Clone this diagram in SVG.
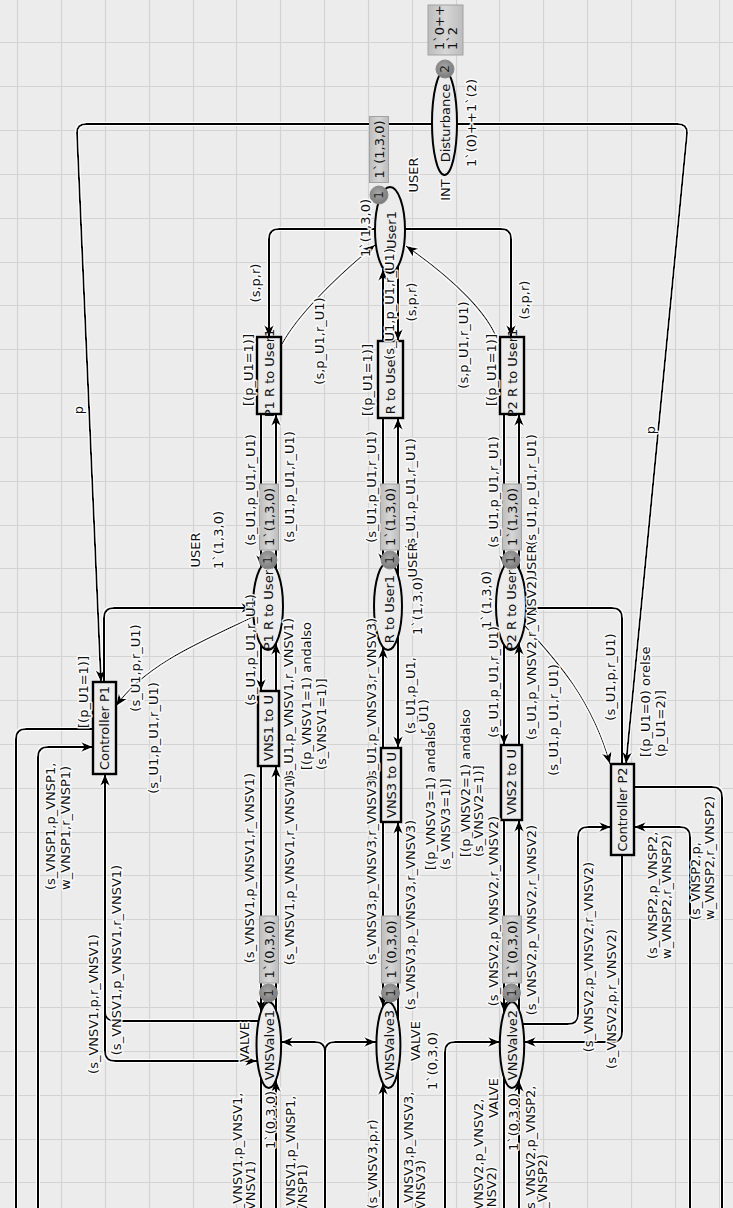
<svg xmlns="http://www.w3.org/2000/svg" width="733" height="1208" viewBox="0 0 733 1208">
<defs>
<style>
.bg{fill:#ececec}
.grid{stroke:#d3d3d3;stroke-width:1.2;fill:none}
.arc{fill:none;stroke:#000;stroke-width:2}
.thin{stroke-width:1.2}
.pl{fill:#ececec;stroke:#000;stroke-width:2}
.tr{fill:#ececec;stroke:#000;stroke-width:2.4}
.tok{fill:url(#tg);stroke:#8a8a8a;stroke-width:1}
.mk{fill:url(#mg);stroke:#a2a2a2;stroke-width:1}
text{font-family:"DejaVu Sans",Verdana,sans-serif;font-size:13px;fill:#111;text-anchor:middle;dominant-baseline:central}
.lb{paint-order:stroke;stroke:#fff;stroke-width:3;stroke-linejoin:round;stroke-opacity:0.9}
.st{text-anchor:start}
.tk{font-size:12px;fill:#222}
</style>
<radialGradient id="tg" cx="0.45" cy="0.4" r="0.6"><stop offset="0" stop-color="#a8a8a8"/><stop offset="1" stop-color="#7a7a7a"/></radialGradient>
<linearGradient id="mg" x1="0" y1="0" x2="1" y2="0"><stop offset="0" stop-color="#bcbcbc"/><stop offset="0.5" stop-color="#d6d6d6"/><stop offset="1" stop-color="#bcbcbc"/></linearGradient>
<marker id="ah" viewBox="0 0 12 10" refX="12" refY="5" markerWidth="12" markerHeight="10" markerUnits="userSpaceOnUse" orient="auto"><path d="M0,0 L12,5 L0,10 L3.5,5 z" fill="#000"/></marker>
<filter id="halo" filterUnits="userSpaceOnUse" x="0" y="0" width="733" height="1208"><feMorphology in="SourceAlpha" operator="dilate" radius="1.3" result="d"/><feFlood flood-color="#fff"/><feComposite in2="d" operator="in" result="w"/><feMerge><feMergeNode in="w"/><feMergeNode in="SourceGraphic"/></feMerge></filter>
</defs>
<rect class="bg" x="0" y="0" width="733" height="1208"/>
<path class="grid" d="M17.5 0V1208M61.5 0V1208M105.5 0V1208M149.5 0V1208M193.5 0V1208M236.5 0V1208M280.5 0V1208M324.5 0V1208M368.5 0V1208M412.5 0V1208M456.5 0V1208M499.5 0V1208M543.5 0V1208M587.5 0V1208M631.5 0V1208M675.5 0V1208M719.5 0V1208M0 42.5H733M0 86.5H733M0 130.5H733M0 174.5H733M0 218.5H733M0 262.5H733M0 305.5H733M0 349.5H733M0 393.5H733M0 437.5H733M0 481.5H733M0 525.5H733M0 568.5H733M0 612.5H733M0 656.5H733M0 700.5H733M0 744.5H733M0 788.5H733M0 832.5H733M0 875.5H733M0 919.5H733M0 963.5H733M0 1007.5H733M0 1051.5H733M0 1095.5H733M0 1139.5H733M0 1182.5H733"/>

<g id="connectors" filter="url(#halo)">
<path class="arc" d="M432 124 H86 Q77 124 77 133 L101 682" marker-end="url(#ah)"/>
<path class="arc" d="M457 124 H678 Q687 124 687 133 L626 764" marker-end="url(#ah)"/>
<path class="arc" d="M375 229 H279 Q269 229 269 239 V337" marker-end="url(#ah)"/>
<path class="arc" d="M405 229 H501 Q511 229 511 239 V337" marker-end="url(#ah)"/>
<path class="arc thin" d="M282 344 C296 318 330 282 375 245" marker-end="url(#ah)"/>
<path class="arc thin" d="M497 339 C488 315 458 282 406 246" marker-end="url(#ah)"/>
<path class="arc" d="M398 266 V341" marker-end="url(#ah)"/>
<path class="arc" d="M383 341 V269" marker-end="url(#ah)"/>
<path class="arc" d="M261 414 V567" marker-end="url(#ah)"/>
<path class="arc" d="M276 569 V414" marker-end="url(#ah)"/>
<path class="arc" d="M261 645 V691" marker-end="url(#ah)"/>
<path class="arc" d="M276 691 V643" marker-end="url(#ah)"/>
<path class="arc" d="M261 766 V1012" marker-end="url(#ah)"/>
<path class="arc" d="M276 1011 V766" marker-end="url(#ah)"/>
<path class="arc" d="M261 1078 V1208"/>
<path class="arc" d="M276 1208 V1080" marker-end="url(#ah)"/>
<path class="arc" d="M383 418 V565" marker-end="url(#ah)"/>
<path class="arc" d="M398 575 V418" marker-end="url(#ah)"/>
<path class="arc" d="M383 748 V647" marker-end="url(#ah)"/>
<path class="arc" d="M398 637 V748" marker-end="url(#ah)"/>
<path class="arc" d="M383 822 V1007" marker-end="url(#ah)"/>
<path class="arc" d="M398 1019 V822" marker-end="url(#ah)"/>
<path class="arc" d="M383 1208 V1083" marker-end="url(#ah)"/>
<path class="arc" d="M398 1071 V1208"/>
<path class="arc" d="M504 414 V567" marker-end="url(#ah)"/>
<path class="arc" d="M519 569 V414" marker-end="url(#ah)"/>
<path class="arc" d="M504 645 V745" marker-end="url(#ah)"/>
<path class="arc" d="M519 745 V643" marker-end="url(#ah)"/>
<path class="arc" d="M504 820 V1012" marker-end="url(#ah)"/>
<path class="arc" d="M519 1010 V820" marker-end="url(#ah)"/>
<path class="arc" d="M504 1077 V1208"/>
<path class="arc" d="M519 1208 V1080" marker-end="url(#ah)"/>
<path class="arc" d="M104 682 V618 Q104 608 114 608 H253" marker-end="url(#ah)"/>
<path class="arc thin" d="M253 617 C200 642 145 665 116 706" marker-end="url(#ah)"/>
<path class="arc" d="M93 729 H26 Q16 729 16 739 V1208"/>
<path class="arc" d="M38 1208 V757 Q38 747 48 747 H93" marker-end="url(#ah)"/>
<path class="arc" d="M258 1021 H115 Q105 1021 105 1011 V774" marker-end="url(#ah)"/>
<path class="arc" d="M105 774 V1051 Q105 1061 115 1061 H257" marker-end="url(#ah)"/>
<path class="arc" d="M325 1208 V1052 Q325 1042 315 1042 H281" marker-end="url(#ah)"/>
<path class="arc" d="M325 1208 V1052 Q325 1042 335 1042 H376" marker-end="url(#ah)"/>
<path class="arc" d="M445 1208 V1052 Q445 1042 455 1042 H500" marker-end="url(#ah)"/>
<path class="arc" d="M622 764 V618 Q622 608 612 608 H526" marker-end="url(#ah)"/>
<path class="arc thin" d="M525 626 C558 662 592 700 610 764" marker-end="url(#ah)"/>
<path class="arc" d="M634 787 H712 Q722 787 722 797 V1208"/>
<path class="arc" d="M690 1208 V837 Q690 827 680 827 H634" marker-end="url(#ah)"/>
<path class="arc" d="M523 1024 H568 Q578 1024 578 1014 V837 Q578 827 588 827 H611" marker-end="url(#ah)"/>
<path class="arc" d="M622 855 V1032 Q622 1042 612 1042 H524" marker-end="url(#ah)"/>
</g>

<g id="Disturbance">
<ellipse class="pl" cx="444.5" cy="123" rx="12.5" ry="52"/>
<text transform="rotate(-90 445 123)" x="445" y="123">Disturbance</text>
<rect class="mk" x="428" y="5" width="35" height="50"/>
<text class="st" transform="rotate(-90 439 50)" x="439" y="50">1`0++</text>
<text class="st" transform="rotate(-90 452 50)" x="452" y="50">1`2</text>
<circle class="tok" cx="445" cy="69" r="9"/>
<text class="tk" transform="rotate(-90 445 69)" x="445" y="69">2</text>
</g>

<g id="User1">
<ellipse class="pl" cx="390" cy="230" rx="15" ry="43"/>
<text transform="rotate(-90 391 230)" x="391" y="230">User1</text>
<rect class="mk" x="369.5" y="116.5" width="19" height="66"/>
<text transform="rotate(-90 379 149.5)" x="379" y="149.5">1`(1,3,0)</text>
<circle class="tok" cx="379" cy="195" r="9"/>
<text class="tk" transform="rotate(-90 379 195)" x="379" y="195">1</text>
</g>

<g id="T_P1RtoUser1">
<rect class="tr" x="257" y="337" width="24" height="77"/>
<text transform="rotate(-90 269 373)" x="269" y="373">P1 R to User1</text>
</g>
<g id="T_RtoUser1">
<rect class="tr" x="378" y="341" width="25" height="77"/>
<text transform="rotate(-90 390.5 380)" x="390.5" y="380">R to User1</text>
</g>
<g id="T_P2RtoUser1">
<rect class="tr" x="500" y="337" width="24" height="77"/>
<text transform="rotate(-90 512 373)" x="512" y="373">P2 R to User1</text>
</g>

<g id="P_P1RtoUser1">
<ellipse class="pl" cx="268" cy="606" rx="15" ry="44"/>
<text transform="rotate(-90 268.5 606)" x="268.5" y="606">P1 R to User1</text>
<rect class="mk" x="259.5" y="484" width="19" height="66"/>
<text transform="rotate(-90 269 517)" x="269" y="517">1`(1,3,0)</text>
<circle class="tok" cx="268" cy="560" r="9"/>
<text class="tk" transform="rotate(-90 268 560)" x="268" y="560">1</text>
</g>
<g id="P_RtoUser1">
<ellipse class="pl" cx="388" cy="606" rx="14" ry="44"/>
<text transform="rotate(-90 389 609)" x="389" y="609">R to User1</text>
<rect class="mk" x="380.5" y="484" width="19" height="66"/>
<text transform="rotate(-90 390 517)" x="390" y="517">1`(1,3,0)</text>
<circle class="tok" cx="390" cy="560" r="9"/>
<text class="tk" transform="rotate(-90 390 560)" x="390" y="560">1</text>
</g>
<g id="P_P2RtoUser1">
<ellipse class="pl" cx="511" cy="606" rx="15" ry="44"/>
<text transform="rotate(-90 511.5 606)" x="511.5" y="606">P2 R to User1</text>
<rect class="mk" x="502.5" y="484" width="19" height="66"/>
<text transform="rotate(-90 512 517)" x="512" y="517">1`(1,3,0)</text>
<circle class="tok" cx="511" cy="560" r="9"/>
<text class="tk" transform="rotate(-90 511 560)" x="511" y="560">1</text>
</g>

<g id="T_VNS1toU">
<rect class="tr" x="258" y="691" width="21" height="75"/>
<text transform="rotate(-90 268.5 728)" x="268.5" y="728">VNS1 to U</text>
</g>
<g id="T_VNS3toU">
<rect class="tr" x="381" y="748" width="20" height="74"/>
<text transform="rotate(-90 391 785)" x="391" y="785">VNS3 to U</text>
</g>
<g id="T_VNS2toU">
<rect class="tr" x="501" y="745" width="21" height="75"/>
<text transform="rotate(-90 511.5 782)" x="511.5" y="782">VNS2 to U</text>
</g>

<g id="VNSValve1">
<ellipse class="pl" cx="268.8" cy="1045" rx="12.3" ry="43"/>
<text transform="rotate(-90 269 1045)" x="269" y="1045">VNSValve1</text>
<rect class="mk" x="259.5" y="916" width="19" height="67"/>
<text transform="rotate(-90 269 949.5)" x="269" y="949.5">1`(0,3,0)</text>
<circle class="tok" cx="268.5" cy="993" r="9"/>
<text class="tk" transform="rotate(-90 268.5 993)" x="268.5" y="993">1</text>
</g>
<g id="VNSValve3">
<ellipse class="pl" cx="388.4" cy="1045" rx="12" ry="43"/>
<text transform="rotate(-90 389 1045)" x="389" y="1045">VNSValve3</text>
<rect class="mk" x="381.5" y="916" width="19" height="67"/>
<text transform="rotate(-90 391 949.5)" x="391" y="949.5">1`(0,3,0)</text>
<circle class="tok" cx="390.5" cy="993" r="9"/>
<text class="tk" transform="rotate(-90 390.5 993)" x="390.5" y="993">1</text>
</g>
<g id="VNSValve2">
<ellipse class="pl" cx="512" cy="1045" rx="12.2" ry="43"/>
<text transform="rotate(-90 512 1045)" x="512" y="1045">VNSValve2</text>
<rect class="mk" x="502.5" y="916" width="19" height="67"/>
<text transform="rotate(-90 512 949.5)" x="512" y="949.5">1`(0,3,0)</text>
<circle class="tok" cx="511.5" cy="993" r="9"/>
<text class="tk" transform="rotate(-90 511.5 993)" x="511.5" y="993">1</text>
</g>

<g id="ControllerP1">
<rect class="tr" x="93" y="682" width="23" height="92"/>
<text transform="rotate(-90 104.5 728)" x="104.5" y="728">Controller P1</text>
</g>
<g id="ControllerP2">
<rect class="tr" x="611" y="764" width="23" height="91"/>
<text transform="rotate(-90 622.5 809.5)" x="622.5" y="809.5">Controller P2</text>
</g>

<g id="labels" class="lb">
<text class="lb" transform="rotate(-90 78 410)" x="78" y="410">p</text>
<text class="lb" transform="rotate(-90 650 430)" x="650" y="430">p</text>
<text class="lb" transform="rotate(-90 255 283)" x="255" y="283">(s,p,r)</text>
<text class="lb" transform="rotate(-90 524 300)" x="524" y="300">(s,p,r)</text>
<text class="lb" transform="rotate(-90 319 341)" x="319" y="341">(s,p_U1,r_U1)</text>
<text class="lb" transform="rotate(-90 463 345)" x="463" y="345">(s,p_U1,r_U1)</text>
<text class="lb" transform="rotate(-90 248 370)" x="248" y="370">[(p_U1=1)]</text>
<text class="lb" transform="rotate(-90 367 380)" x="367" y="380">[(p_U1=1)]</text>
<text class="lb" transform="rotate(-90 491 370)" x="491" y="370">[(p_U1=1)]</text>
<text class="lb" transform="rotate(-90 413 175)" x="413" y="175">USER</text>
<text class="lb" transform="rotate(-90 365 228)" x="365" y="228">1`(1,3,0)</text>
<text class="lb" transform="rotate(-90 389 304)" x="389" y="304">(s_U1,p_U1,r_U1)</text>
<text class="lb" transform="rotate(-90 411 302)" x="411" y="302">(s,p,r)</text>
<text class="lb" transform="rotate(-90 445 190)" x="445" y="190">INT</text>
<text class="lb" transform="rotate(-90 471 123)" x="471" y="123">1`(0)++1`(2)</text>

<text class="lb" transform="rotate(-90 250 490)" x="250" y="490">(s_U1,p_U1,r_U1)</text>
<text class="lb" transform="rotate(-90 289 487)" x="289" y="487">(s_U1,p_U1,r_U1)</text>
<text class="lb" transform="rotate(-90 371 487)" x="371" y="487">(s_U1,p_U1,r_U1)</text>
<text class="lb" transform="rotate(-90 410 494)" x="410" y="494">(s_U1,p_U1,r_U1)</text>
<text class="lb" transform="rotate(-90 493 492)" x="493" y="492">(s_U1,p_U1,r_U1)</text>
<text class="lb" transform="rotate(-90 531 490)" x="531" y="490">(s_U1,p_U1,r_U1)</text>
<text class="lb" transform="rotate(-90 195 550)" x="195" y="550">USER</text>
<text class="lb" transform="rotate(-90 218 540)" x="218" y="540">1`(1,3,0)</text>
<text class="lb" transform="rotate(-90 412 560)" x="412" y="560">USER</text>
<text class="lb" transform="rotate(-90 417 606)" x="417" y="606">1`(1,3,0)</text>
<text class="lb" transform="rotate(-90 531 562)" x="531" y="562">USER</text>
<text class="lb" transform="rotate(-90 486 600)" x="486" y="600">1`(1,3,0)</text>

<text class="lb" transform="rotate(-90 250 650)" x="250" y="650">(s_U1,p_U1,r_U1)</text>
<text class="lb" transform="rotate(-90 288 700)" x="288" y="700">(s_U1,p_VNSV1,r_VNSV1)</text>
<text class="lb st" transform="rotate(-90 306 770)" x="306" y="770">[(p_VNSV1=1) andalso</text>
<text class="lb st" transform="rotate(-90 321 770)" x="321" y="770">(s_VNSV1=1)]</text>
<text class="lb" transform="rotate(-90 371 700)" x="371" y="700">(s_U1,p_VNSV3,r_VNSV3)</text>
<text class="lb st" transform="rotate(-90 410 734)" x="410" y="734">(s_U1,p_U1,</text>
<text class="lb st" transform="rotate(-90 423 734)" x="423" y="734">r_U1)</text>
<text class="lb st" transform="rotate(-90 430 870)" x="430" y="870">[(p_VNSV3=1) andalso</text>
<text class="lb st" transform="rotate(-90 445 870)" x="445" y="870">(s_VNSV3=1)]</text>
<text class="lb" transform="rotate(-90 493 682)" x="493" y="682">(s_U1,p_U1,r_U1)</text>
<text class="lb" transform="rotate(-90 531 658)" x="531" y="658">(s_U1,p_VNSV2,r_VNSV2)</text>
<text class="lb st" transform="rotate(-90 465 857)" x="465" y="857">[(p_VNSV2=1) andalso</text>
<text class="lb st" transform="rotate(-90 478 857)" x="478" y="857">(s_VNSV2=1)]</text>

<text class="lb" transform="rotate(-90 249 868)" x="249" y="868">(s_VNSV1,p_VNSV1,r_VNSV1)</text>
<text class="lb" transform="rotate(-90 289 870)" x="289" y="870">(s_VNSV1,p_VNSV1,r_VNSV1)</text>
<text class="lb" transform="rotate(-90 371 870)" x="371" y="870">(s_VNSV3,p_VNSV3,r_VNSV3)</text>
<text class="lb" transform="rotate(-90 410 915)" x="410" y="915">(s_VNSV3,p_VNSV3,r_VNSV3)</text>
<text class="lb" transform="rotate(-90 493 911)" x="493" y="911">(s_VNSV2,p_VNSV2,r_VNSV2)</text>
<text class="lb" transform="rotate(-90 531 920)" x="531" y="920">(s_VNSV2,p_VNSV2,r_VNSV2)</text>

<text class="lb" transform="rotate(-90 244 1042)" x="244" y="1042">VALVE</text>
<text class="lb" transform="rotate(-90 270 1120)" x="270" y="1120">1`(0,3,0)</text>
<text class="lb" transform="rotate(-90 415 1041)" x="415" y="1041">VALVE</text>
<text class="lb" transform="rotate(-90 432 1061)" x="432" y="1061">1`(0,3,0)</text>
<text class="lb" transform="rotate(-90 493 1098)" x="493" y="1098">VALVE</text>
<text class="lb" transform="rotate(-90 513 1122)" x="513" y="1122">1`(0,3,0)</text>

<text class="lb st" transform="rotate(-90 237 1222)" x="237" y="1222">(s_VNSV1,p_VNSV1,</text>
<text class="lb st" transform="rotate(-90 250 1222)" x="250" y="1222">r_VNSV1)</text>
<text class="lb st" transform="rotate(-90 290 1224)" x="290" y="1224">(s_VNSV1,p_VNSP1,</text>
<text class="lb st" transform="rotate(-90 302 1224)" x="302" y="1224">r_VNSP1)</text>
<text class="lb" transform="rotate(-90 372 1164)" x="372" y="1164">(s_VNSV3,p,r)</text>
<text class="lb st" transform="rotate(-90 408 1221)" x="408" y="1221">(s_VNSV3,p_VNSV3,</text>
<text class="lb st" transform="rotate(-90 420 1221)" x="420" y="1221">r_VNSV3)</text>
<text class="lb st" transform="rotate(-90 478 1228)" x="478" y="1228">(s_VNSV2,p_VNSV2,</text>
<text class="lb st" transform="rotate(-90 491 1228)" x="491" y="1228">r_VNSV2)</text>
<text class="lb st" transform="rotate(-90 530 1214)" x="530" y="1214">(s_VNSV2,p_VNSP2,</text>
<text class="lb st" transform="rotate(-90 542 1214)" x="542" y="1214">r_VNSP2)</text>

<text class="lb" transform="rotate(-90 83 692)" x="83" y="692">[(p_U1=1)]</text>
<text class="lb" transform="rotate(-90 135 668)" x="135" y="668">(s_U1,p,r_U1)</text>
<text class="lb" transform="rotate(-90 153 738)" x="153" y="738">(s_U1,p_U1,r_U1)</text>
<text class="lb st" transform="rotate(-90 50 890)" x="50" y="890">(s_VNSP1,p_VNSP1,</text>
<text class="lb st" transform="rotate(-90 65 890)" x="65" y="890">w_VNSP1,r_VNSP1)</text>
<text class="lb" transform="rotate(-90 93 1004)" x="93" y="1004">(s_VNSV1,p,r_VNSV1)</text>
<text class="lb" transform="rotate(-90 116 960)" x="116" y="960">(s_VNSV1,p_VNSV1,r_VNSV1)</text>

<text class="lb st" transform="rotate(-90 645 757)" x="645" y="757">[(p_U1=0) orelse</text>
<text class="lb st" transform="rotate(-90 660 757)" x="660" y="757">(p_U1=2)]</text>
<text class="lb" transform="rotate(-90 610 677)" x="610" y="677">(s_U1,p,r_U1)</text>
<text class="lb" transform="rotate(-90 553 720)" x="553" y="720">(s_U1,p_U1,r_U1)</text>
<text class="lb st" transform="rotate(-90 652 959)" x="652" y="959">(s_VNSP2,p_VNSP2,</text>
<text class="lb st" transform="rotate(-90 666 959)" x="666" y="959">w_VNSP2,r_VNSP2)</text>
<text class="lb st" transform="rotate(-90 695 920)" x="695" y="920">(s_VNSP2,p,</text>
<text class="lb st" transform="rotate(-90 709 920)" x="709" y="920">w_VNSP2,r_VNSP2)</text>
<text class="lb" transform="rotate(-90 588 957)" x="588" y="957">(s_VNSV2,p_VNSV2,r_VNSV2)</text>
<text class="lb" transform="rotate(-90 611 999)" x="611" y="999">(s_VNSV2,p,r_VNSV2)</text>
</g>
</svg>
